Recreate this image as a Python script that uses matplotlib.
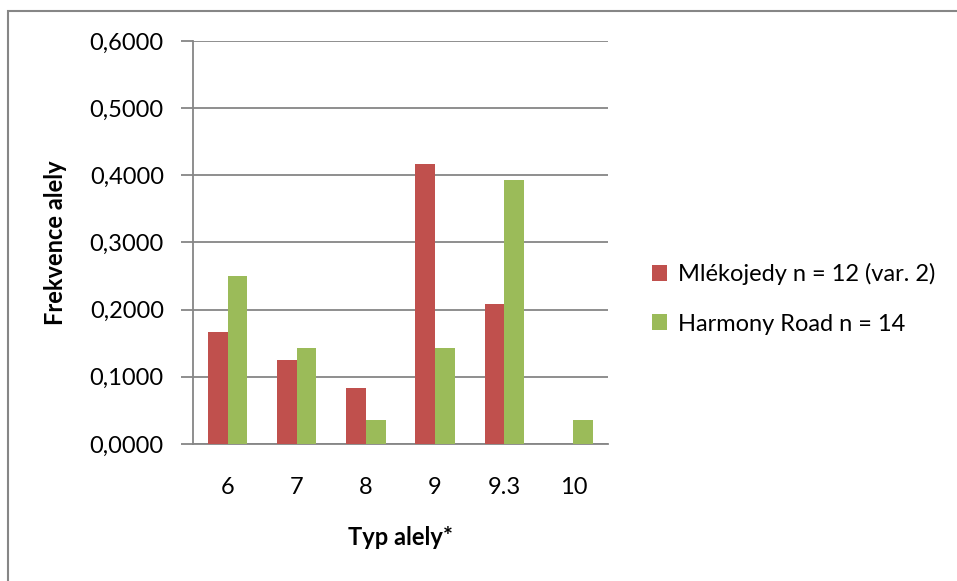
import matplotlib
matplotlib.use("Agg")
import matplotlib.pyplot as plt
from matplotlib.patches import Rectangle
import numpy as np

plt.rcParams['font.family'] = ['Lato', 'DejaVu Sans']

categories = ["6", "7", "8", "9", "9.3", "10"]
mlekojedy = [4/24, 3/24, 2/24, 10/24, 5/24, 0.0]
harmony = [7/28, 4/28, 1/28, 4/28, 11/28, 1/28]
yticks = [0.0, 0.1, 0.2, 0.3, 0.4, 0.5, 0.6]
series_labels = ["Mlékojedy n = 12 (var. 2)", "Harmony Road n = 14"]

red = "#C0504D"
green = "#9BBB59"
grid_c = "#868686"
fs = 17

W, H = 957, 581
fig = plt.figure(figsize=(W / 100, H / 100), dpi=100)

# outer chart frame
fig.patches.append(Rectangle((8 / W, -0.1), 1.2, (H - 11) / H + 0.1,
                             transform=fig.transFigure, fill=False,
                             edgecolor=grid_c, linewidth=1.5))

ax = fig.add_axes([193 / W, 1 - 444 / H, (608 - 193) / W, (444 - 41) / H])

x = np.arange(len(categories))
bw = 0.284
ax.bar(x - bw / 2, mlekojedy, bw, color=red, label=series_labels[0], zorder=3)
ax.bar(x + bw / 2, harmony, bw, color=green, label=series_labels[1], zorder=3)

ax.set_xlim(-0.5, len(categories) - 0.5)
ax.set_ylim(0, 0.6)
ax.set_yticks(yticks)
ax.set_yticklabels([f"{v:.4f}".replace(".", ",") for v in yticks], fontsize=fs)
ax.set_xticks(x)
ax.set_xticklabels(categories, fontsize=fs)
ax.yaxis.grid(True, color=grid_c, linewidth=1.3, zorder=0)
ax.tick_params(axis='y', length=9, width=1.3, color=grid_c, pad=12)
ax.tick_params(axis='x', length=0, pad=24)

for side in ["top", "right"]:
    ax.spines[side].set_visible(False)
for side in ["left", "bottom"]:
    ax.spines[side].set_color(grid_c)
    ax.spines[side].set_linewidth(1.3)

ax.set_ylabel("Frekvence alely", fontsize=fs, fontweight='bold', labelpad=16)
ax.set_xlabel("Typ alely*", fontsize=fs, fontweight='bold', labelpad=20)

ax.legend(loc='center left', bbox_to_anchor=(1.055, 0.36), frameon=False,
          fontsize=fs, handlelength=0.65, handleheight=0.65, handletextpad=0.45,
          labelspacing=1.2)

fig.savefig("out.png", dpi=100)
